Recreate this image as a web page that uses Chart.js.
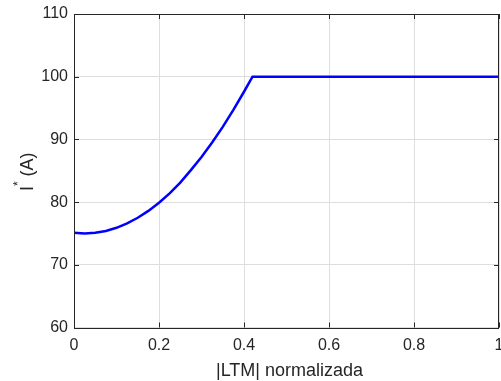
<!DOCTYPE html>
<html>
<head>
<meta charset="utf-8">
<script src="https://cdn.jsdelivr.net/npm/chart.js@4/dist/chart.umd.min.js"></script>
<style>
  body { margin: 0; background: #fff; }
  canvas { display: block; }
</style>
</head>
<body>
<canvas id="grafico" width="501" height="381"></canvas>
<script>
// Valores
const ltmNorm = [0, 0.025, 0.05, 0.075, 0.1, 0.125, 0.15, 0.175, 0.2, 0.225, 0.25, 0.275, 0.3, 0.325, 0.35, 0.375, 0.4, 0.42, 1.0];
const corriente = [75.1, 75.0, 75.1, 75.4, 75.9, 76.6, 77.5, 78.6, 79.9, 81.4, 83.1, 85.1, 87.2, 89.5, 92.0, 94.7, 97.6, 100, 100];

const xTicks = [0, 0.2, 0.4, 0.6, 0.8, 1];
const yTicks = [60, 70, 80, 90, 100, 110];

const colorTexto = '#262626';
const fuente = '"Liberation Sans", Arial, sans-serif';

// Caja, marcas interiores y títulos de los ejes (estilo MATLAB)
const estiloEjes = {
    id: 'estiloEjes',
    afterDraw(chart) {
        const ctx = chart.ctx;
        const a = chart.chartArea;
        const sx = chart.scales.x;
        const sy = chart.scales.y;
        ctx.save();
        ctx.strokeStyle = colorTexto;
        ctx.lineWidth = 1;
        ctx.beginPath();
        xTicks.forEach(v => {
            const px = Math.round(sx.getPixelForValue(v)) + 0.5;
            ctx.moveTo(px, a.bottom); ctx.lineTo(px, a.bottom - 5);
            ctx.moveTo(px, a.top); ctx.lineTo(px, a.top + 5);
        });
        yTicks.forEach(v => {
            const py = Math.round(sy.getPixelForValue(v)) + 0.5;
            ctx.moveTo(a.left, py); ctx.lineTo(a.left + 5, py);
            ctx.moveTo(a.right, py); ctx.lineTo(a.right - 5, py);
        });
        ctx.stroke();
        ctx.strokeRect(Math.round(a.left) + 0.5, Math.round(a.top) + 0.5,
            Math.round(a.right - a.left) - 1, Math.round(a.bottom - a.top));

        // título eje x
        ctx.fillStyle = colorTexto;
        ctx.font = '18px ' + fuente;
        ctx.textAlign = 'center';
        ctx.textBaseline = 'alphabetic';
        ctx.fillText('|LTM| normalizada', (a.left + a.right) / 2 + 3, 376);

        // título eje y: I* (A)
        const cy = (a.top + a.bottom) / 2 + 1;
        ctx.translate(33, cy);
        ctx.rotate(-Math.PI / 2);
        ctx.textAlign = 'left';
        ctx.font = '18px ' + fuente;
        const wI = ctx.measureText('I').width;
        const wResto = ctx.measureText(' (A)').width;
        ctx.font = '12px ' + fuente;
        const wAst = ctx.measureText('*').width;
        const inicio = -(wI + wAst + wResto) / 2;
        ctx.font = '18px ' + fuente;
        ctx.fillText('I', inicio, 0);
        ctx.fillText(' (A)', inicio + wI + wAst, 0);
        ctx.font = '12px ' + fuente;
        ctx.fillText('*', inicio + wI, -11);
        ctx.restore();
    }
};

const ctx = document.getElementById('grafico').getContext('2d');
const grafico = new Chart(ctx, {
    type: 'line',
    data: {
        datasets: [{
            data: ltmNorm.map((x, i) => ({ x: x, y: corriente[i] })),
            borderColor: '#0000ff',
            borderWidth: 2.5,
            pointRadius: 0,
            tension: 0,
            fill: false
        }]
    },
    options: {
        responsive: false,
        animation: false,
        devicePixelRatio: 1,
        layout: { padding: { left: 0, right: 2, top: 14, bottom: 0 } },
        plugins: {
            legend: { display: false },
            tooltip: { enabled: false }
        },
        scales: {
            x: {
                type: 'linear',
                min: 0,
                max: 1,
                afterBuildTicks: scale => { scale.ticks = xTicks.map(v => ({ value: v })); },
                afterFit: scale => {
                    scale.height = 53.5;
                    scale.paddingLeft = 0;
                    scale.paddingRight = 0;
                },
                ticks: {
                    color: colorTexto,
                    font: { family: fuente, size: 16 },
                    padding: 8,
                    maxRotation: 0,
                    callback: v => String(v)
                },
                grid: { color: '#dedede', drawTicks: false, tickLength: 0 },
                border: { display: false }
            },
            y: {
                min: 60,
                max: 110,
                afterBuildTicks: scale => { scale.ticks = yTicks.map(v => ({ value: v })); },
                afterFit: scale => {
                    scale.width = 74;
                    scale.paddingTop = 0;
                    scale.paddingBottom = 0;
                },
                ticks: {
                    color: colorTexto,
                    font: { family: fuente, size: 16 },
                    padding: 6,
                    callback: v => String(v)
                },
                grid: { color: '#dedede', drawTicks: false, tickLength: 0 },
                border: { display: false }
            }
        }
    },
    plugins: [estiloEjes]
});
</script>
</body>
</html>
